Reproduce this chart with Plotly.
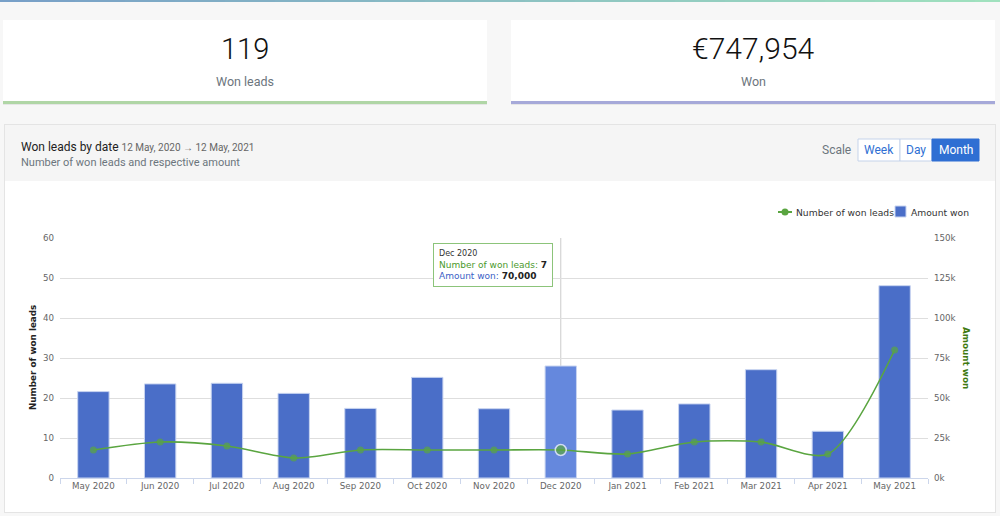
import plotly.graph_objects as go

# ---------------- data ----------------
months = ["May 2020", "Jun 2020", "Jul 2020", "Aug 2020", "Sep 2020", "Oct 2020", "Nov 2020",
          "Dec 2020", "Jan 2021", "Feb 2021", "Mar 2021", "Apr 2021", "May 2021"]
won_leads = [7, 9, 8, 5, 7, 7, 7, 7, 6, 9, 9, 6, 32]
amount_won = [54000, 58800, 59200, 52900, 43500, 62900, 43300, 70000, 42500, 46300, 67700, 29200, 120200]
amount_ticks = [0, 25000, 50000, 75000, 100000, 125000, 150000]
amount_tick_labels = ["0k", "25k", "50k", "75k", "100k", "125k", "150k"]
total_leads_label = "119"
total_won_label = "€747,954"
hover_index = 7

W, H = 1000, 516
def X(p): return p / W
def Y(p): return 1 - p / H

FONT = "DejaVu Sans"
BAR = "#4a6ec8"
BAR_HI = "#6588dd"
GREEN = "#5aa540"

fig = go.Figure()

bar_colors = [BAR_HI if i == hover_index else BAR for i in range(len(months))]
fig.add_trace(go.Bar(
    x=months, y=amount_won, name="Amount won", yaxis="y",
    marker=dict(color=bar_colors, line=dict(color="#c8d4f0", width=1)),
    width=0.47,
))
msize = [11 if i == hover_index else 7 for i in range(len(months))]
mlw = [1.5 if i == hover_index else 0 for i in range(len(months))]
fig.add_trace(go.Scatter(
    x=months, y=won_leads, name="Number of won leads", yaxis="y2",
    mode="lines+markers", line=dict(color=GREEN, width=1.6, shape="spline", smoothing=0.8),
    marker=dict(color=GREEN, size=msize, line=dict(color="white", width=mlw)),
))

shapes = []
# top gradient strip
n = 40
c0 = (120, 160, 200); c1 = (160, 225, 190)
for i in range(n):
    t = i / (n - 1)
    col = "rgb(%d,%d,%d)" % tuple(int(c0[k] + (c1[k] - c0[k]) * t) for k in range(3))
    shapes.append(dict(type="rect", xref="paper", yref="paper", x0=X(i * W / n), x1=X((i + 1) * W / n + 1),
                       y0=Y(2), y1=Y(0), fillcolor=col, line=dict(width=0), layer="below"))
# KPI cards
for x0, x1, bc in [(3, 487, "#b0d6a6"), (511, 995, "#a6a9d9")]:
    shapes.append(dict(type="rect", xref="paper", yref="paper", x0=X(x0), x1=X(x1), y0=Y(105), y1=Y(21),
                       fillcolor="#e6e6e6", line=dict(width=0), layer="below"))
    shapes.append(dict(type="rect", xref="paper", yref="paper", x0=X(x0), x1=X(x1), y0=Y(104), y1=Y(20),
                       fillcolor="white", line=dict(width=0), layer="below"))
    shapes.append(dict(type="rect", xref="paper", yref="paper", x0=X(x0), x1=X(x1), y0=Y(104), y1=Y(101),
                       fillcolor=bc, line=dict(width=0), layer="below"))
# chart card
shapes.append(dict(type="rect", xref="paper", yref="paper", x0=X(4), x1=X(996), y0=Y(513), y1=Y(124),
                   fillcolor="#e4e4e4", line=dict(width=0), layer="below"))
shapes.append(dict(type="rect", xref="paper", yref="paper", x0=X(5), x1=X(995), y0=Y(512), y1=Y(125),
                   fillcolor="white", line=dict(width=0), layer="below"))
shapes.append(dict(type="rect", xref="paper", yref="paper", x0=X(5), x1=X(995), y0=Y(181), y1=Y(125),
                   fillcolor="#f5f5f5", line=dict(width=0), layer="below"))
# scale buttons
for x0, x1, fill in [(858, 900, "white"), (900, 932, "white"), (932, 979, "#2f6fd3")]:
    shapes.append(dict(type="rect", xref="paper", yref="paper", x0=X(x0), x1=X(x1), y0=Y(161), y1=Y(139),
                       fillcolor=fill, line=dict(color="#c5d3ea" if fill == "white" else "#2f6fd3", width=1)))
# crosshair
shapes.append(dict(type="line", xref="x", yref="y domain", x0=months[hover_index], x1=months[hover_index],
                   y0=0, y1=1, line=dict(color="#cccccc", width=1), layer="below"))
# custom legend symbols
shapes.append(dict(type="line", xref="paper", yref="paper", x0=X(778), x1=X(792), y0=Y(212), y1=Y(212),
                   line=dict(color=GREEN, width=2)))
shapes.append(dict(type="circle", xref="paper", yref="paper", x0=X(781.5), x1=X(788.5), y0=Y(215.5), y1=Y(208.5),
                   fillcolor=GREEN, line=dict(width=0)))
shapes.append(dict(type="rect", xref="paper", yref="paper", x0=X(895), x1=X(906), y0=Y(217), y1=Y(206),
                   fillcolor=BAR, line=dict(color="#c8d4f0", width=1)))

ann = []
def A(text, x, y, size, color, xanchor="left", yanchor="middle", weight=None, family=FONT, **kw):
    f = dict(size=size, color=color, family=family)
    if weight:
        f["weight"] = weight
    ann.append(dict(text=text, x=X(x), y=Y(y), xref="paper", yref="paper", showarrow=False,
                    xanchor=xanchor, yanchor=yanchor, font=f, **kw))

A(total_leads_label, 245, 49, 29, "#111", "center", family="Roboto", weight=300)
A("Won leads", 245, 81, 12.5, "#6c757d", "center", family="Roboto")
A(total_won_label, 753, 49, 30, "#111", "center", family="Roboto", weight=300)
A("Won", 753, 81, 12.5, "#6c757d", "center", family="Roboto")

A("Won leads by date <span style='font-size:10px;color:#666'>12 May, 2020 → 12 May, 2021</span>",
  19, 147, 12, "#222", family="Roboto")
A("Number of won leads and respective amount", 19, 162, 11, "#6c757d", family="Roboto")
A("Scale", 853, 150, 12, "#6c757d", "right", family="Roboto")
A("Week", 879, 150, 12, "#2f6fd3", "center", family="Roboto")
A("Day", 916, 150, 12, "#2f6fd3", "center", family="Roboto")
A("Month", 955.5, 150, 12, "white", "center", family="Roboto")

A("Number of won leads", 794, 212, 9.2, "#333", "left")
A("Amount won", 909, 212, 9.2, "#333", "left")

A("<b>Number of won leads</b>", 33, 358, 8.8, "#222", "center", textangle=-90)
A("<b>Amount won</b>", 966, 358, 8.8, "#3f7a12", "center", textangle=90)

tip = ("<span style='font-size:8px;color:#333'>%s</span><br>"
       "<span style='color:#4b9a2c'>Number of won leads:</span> <b>%d</b><br>"
       "<span style='color:#3b5fc6'>Amount won:</span> <b>%s</b>") % (
    months[hover_index], won_leads[hover_index], f"{amount_won[hover_index]:,}")
A(tip, 433, 243, 9, "#222", "left", "top", align="left", bgcolor="white",
  bordercolor="#8cc47a", borderwidth=1, borderpad=5)

tickfont = dict(size=8.7, color="#666")
fig.update_layout(
    width=W, height=H, margin=dict(l=0, r=0, t=0, b=0, autoexpand=False),
    paper_bgcolor="#f7f7f7", plot_bgcolor="rgba(0,0,0,0)",
    shapes=shapes, annotations=ann, bargap=0.5,
    font=dict(family=FONT, size=9, color="#666"),
    xaxis=dict(domain=[X(60), X(928)], range=[-0.5, len(months) - 0.5], showgrid=False,
               ticks="outside", tickson="boundaries",
               ticklen=5, tickcolor="#ccd6eb", showline=True, linecolor="#ccd6eb", automargin=False,
               tickfont=tickfont, fixedrange=True),
    yaxis=dict(domain=[Y(478), Y(238)], side="right", range=[0, 150000], tickvals=amount_ticks,
               ticktext=amount_tick_labels, showgrid=True, gridcolor="#dedede", zeroline=False,
               automargin=False, tickfont=tickfont, ticklabelstandoff=5),
    yaxis2=dict(overlaying="y", side="left", range=[0, 60], dtick=10, showgrid=False, zeroline=False,
                automargin=False, tickfont=tickfont, ticklabelstandoff=5),
    showlegend=False,
)

fig.write_html("out.html", config={"displayModeBar": False},
               post_script="document.body.style.margin='0';document.body.style.overflow='hidden';")
